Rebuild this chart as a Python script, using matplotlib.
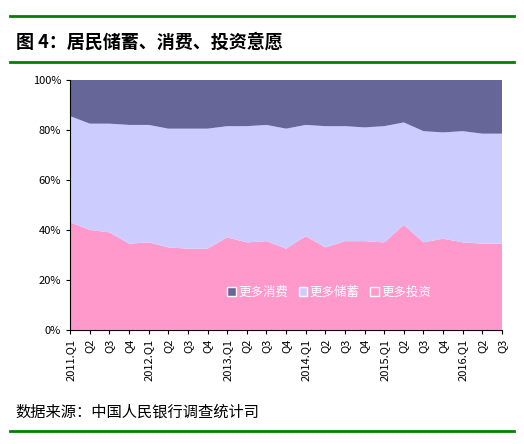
import matplotlib
matplotlib.use("Agg")
import matplotlib.pyplot as plt
import numpy as np
from matplotlib.patches import Patch
from matplotlib.lines import Line2D

plt.rcParams['font.family'] = ['Noto Sans CJK SC', 'DejaVu Sans']

labels = ["2011.Q1", "Q2", "Q3", "Q4", "2012.Q1", "Q2", "Q3", "Q4",
          "2013.Q1", "Q2", "Q3", "Q4", "2014.Q1", "Q2", "Q3", "Q4",
          "2015.Q1", "Q2", "Q3", "Q4", "2016.Q1", "Q2", "Q3"]
invest = [43, 40, 39, 34.5, 35, 33, 32.5, 32.5, 37, 35, 35.5, 32.5, 37.5, 33,
          35.5, 35.5, 35, 42, 35, 36.5, 35, 34.5, 34.5]
save_top = [85.5, 82.5, 82.5, 82, 82, 80.5, 80.5, 80.5, 81.5, 81.5, 82, 80.5,
            82, 81.5, 81.5, 81, 81.5, 83, 79.5, 79, 79.5, 78.5, 78.5]
save = [t - b for t, b in zip(save_top, invest)]
consume = [100 - t for t in save_top]

c_inv, c_save, c_cons = "#ff99cc", "#ccccff", "#666699"

fig = plt.figure(figsize=(5.24, 4.44), dpi=100)
fig.add_artist(Line2D([0.02, 0.98], [0.965, 0.965], color="#008000", lw=2))
fig.add_artist(Line2D([0.02, 0.98], [0.86, 0.86], color="#008000", lw=2))
fig.add_artist(Line2D([0.02, 0.98], [0.03, 0.03], color="#008000", lw=2))
fig.text(0.03, 0.905, "图 4：居民储蓄、消费、投资意愿", fontsize=13, fontweight="bold",
         va="center")
fig.text(0.03, 0.072, "数据来源：中国人民银行调查统计司", fontsize=11, va="center")

ax = fig.add_axes([0.134, 0.257, 0.824, 0.563])
x = np.arange(len(labels))
ax.stackplot(x, invest, save, consume, colors=[c_inv, c_save, c_cons], lw=0)
ax.set_xlim(0, len(labels) - 1)
ax.set_ylim(0, 100)
ax.set_yticks(range(0, 101, 20))
ax.set_yticklabels([f"{v}%" for v in range(0, 101, 20)], fontsize=8)
ax.set_xticks(x)
ax.set_xticklabels(labels, rotation=90, fontsize=8)
for s in ["top", "right"]:
    ax.spines[s].set_visible(False)
ax.tick_params(length=3)

handles = [Patch(facecolor=c_cons, edgecolor="white", label="更多消费"),
           Patch(facecolor=c_save, edgecolor="white", label="更多储蓄"),
           Patch(facecolor=c_inv, edgecolor="white", label="更多投资")]
leg = ax.legend(handles=handles, loc="lower center", bbox_to_anchor=(0.6, 0.08),
                ncol=3, frameon=False, fontsize=9, handlelength=0.7,
                handletextpad=0.2, columnspacing=0.8)
for t in leg.get_texts():
    t.set_color("white")

fig.savefig("out.png", dpi=100)
